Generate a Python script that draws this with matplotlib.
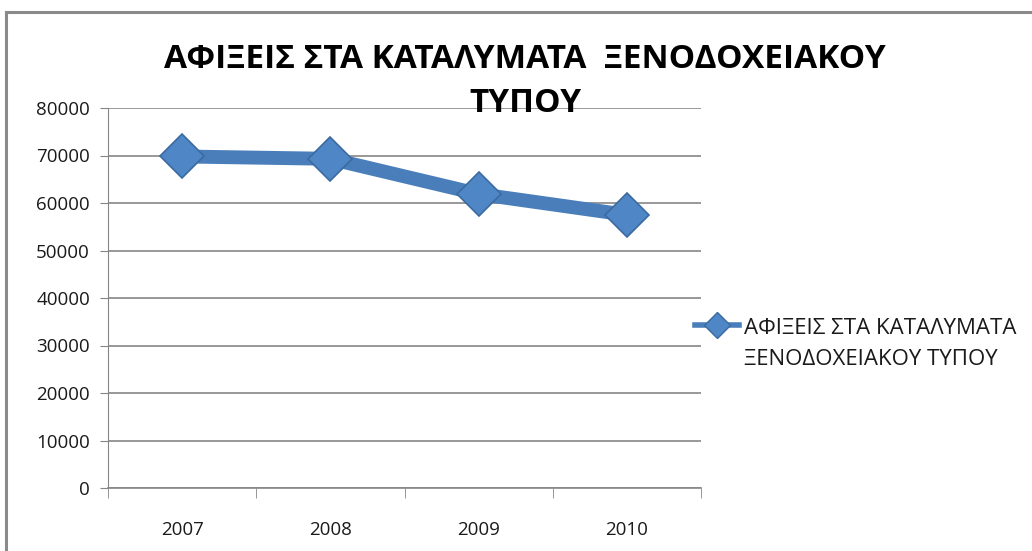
import matplotlib
matplotlib.use("Agg")
import numpy as np
import matplotlib.pyplot as plt
from matplotlib.lines import Line2D
from matplotlib.legend_handler import HandlerLine2D

years = ["2007", "2008", "2009", "2010"]
arrivals = [69800, 69300, 61900, 57500]
yticks = [0, 10000, 20000, 30000, 40000, 50000, 60000, 70000, 80000]
title_l1 = "ΑΦΙΞΕΙΣ ΣΤΑ ΚΑΤΑΛΥΜΑΤΑ  ΞΕΝΟΔΟΧΕΙΑΚΟΥ"
title_l2 = "ΤΥΠΟΥ"
series_name = "ΑΦΙΞΕΙΣ ΣΤΑ ΚΑΤΑΛΥΜΑΤΑ\nΞΕΝΟΔΟΧΕΙΑΚΟΥ ΤΥΠΟΥ"

FONT = ["Open Sans", "DejaVu Sans"]
plt.rcParams['font.family'] = FONT

W, H = 1032, 551
fig = plt.figure(figsize=(W / 100, H / 100), dpi=100)
fig.patch.set_facecolor("white")

# outer chart frame
fig.add_artist(Line2D([6 / W, 6 / W], [0, 1 - 12 / H], transform=fig.transFigure,
                      color="#8a8a8a", lw=2.2))
fig.add_artist(Line2D([6 / W, 1], [1 - 12 / H, 1 - 12 / H], transform=fig.transFigure,
                      color="#8a8a8a", lw=2.2))

left, right = 108 / W, 701 / W
bottom, top = 1 - 488 / H, 1 - 108 / H
ax = fig.add_axes([left, bottom, right - left, top - bottom])

LINE_C = "#4a7ebb"
FACE_C = "#4f86c6"
EDGE_C = "#3b6aa0"

x = list(range(len(years)))
ax.plot(x, arrivals, color=LINE_C, lw=10, solid_capstyle="butt",
        marker="D", markersize=22, markerfacecolor=FACE_C,
        markeredgecolor=EDGE_C, markeredgewidth=1.2, zorder=3)

ax.set_xlim(-0.5, len(years) - 0.5)
ax.set_ylim(0, 80000)
ax.set_yticks(yticks)
ax.set_yticklabels([str(v) for v in yticks], fontsize=13.5, color="#1a1a1a")
ax.set_xticks(x)
ax.set_xticklabels(years, fontsize=13.5, color="#1a1a1a")
ax.set_xticks([i - 0.5 for i in range(len(years) + 1)], minor=True)
ax.tick_params(axis="x", which="major", length=0, pad=24)
ax.tick_params(axis="x", which="minor", length=7, color="#868686", direction="out")
ax.tick_params(axis="y", length=6, color="#868686", direction="out", pad=7)
ax.grid(axis="y", color="#868686", lw=1.2)
ax.set_axisbelow(True)
for s in ["top", "right"]:
    ax.spines[s].set_visible(False)
ax.spines["left"].set_color("#868686")
ax.spines["bottom"].set_color("#868686")
ax.spines["bottom"].set_linewidth(1.2)

fig.text(525 / W, 1 - 60 / H, title_l1, ha="center", va="center",
         fontsize=24, fontweight="bold", color="black")
fig.text(525 / W, 1 - 104 / H, title_l2, ha="center", va="center",
         fontsize=24, fontweight="bold", color="black")


class UpHandler(HandlerLine2D):
    def create_artists(self, legend, orig_handle, xdescent, ydescent,
                       width, height, fontsize, trans):
        arts = super().create_artists(legend, orig_handle, xdescent, ydescent,
                                      width, height, fontsize, trans)
        for a in arts:
            a.set_ydata(np.asarray(a.get_ydata(), dtype=float) + 0.85 * fontsize)
        return arts


handle = Line2D([], [], color=LINE_C, lw=4, marker="D", markersize=13,
                markerfacecolor=FACE_C, markeredgecolor=EDGE_C)
leg = fig.legend([handle], [series_name], loc="center left",
                 bbox_to_anchor=(675 / W, 1 - 344 / H), frameon=False,
                 fontsize=16, handlelength=2.0, handletextpad=0.2,
                 handler_map={Line2D: UpHandler()})
for t in leg.get_texts():
    t.set_linespacing(1.6)
    t.set_color("#1a1a1a")

fig.savefig("out.png", dpi=100, facecolor="white")
